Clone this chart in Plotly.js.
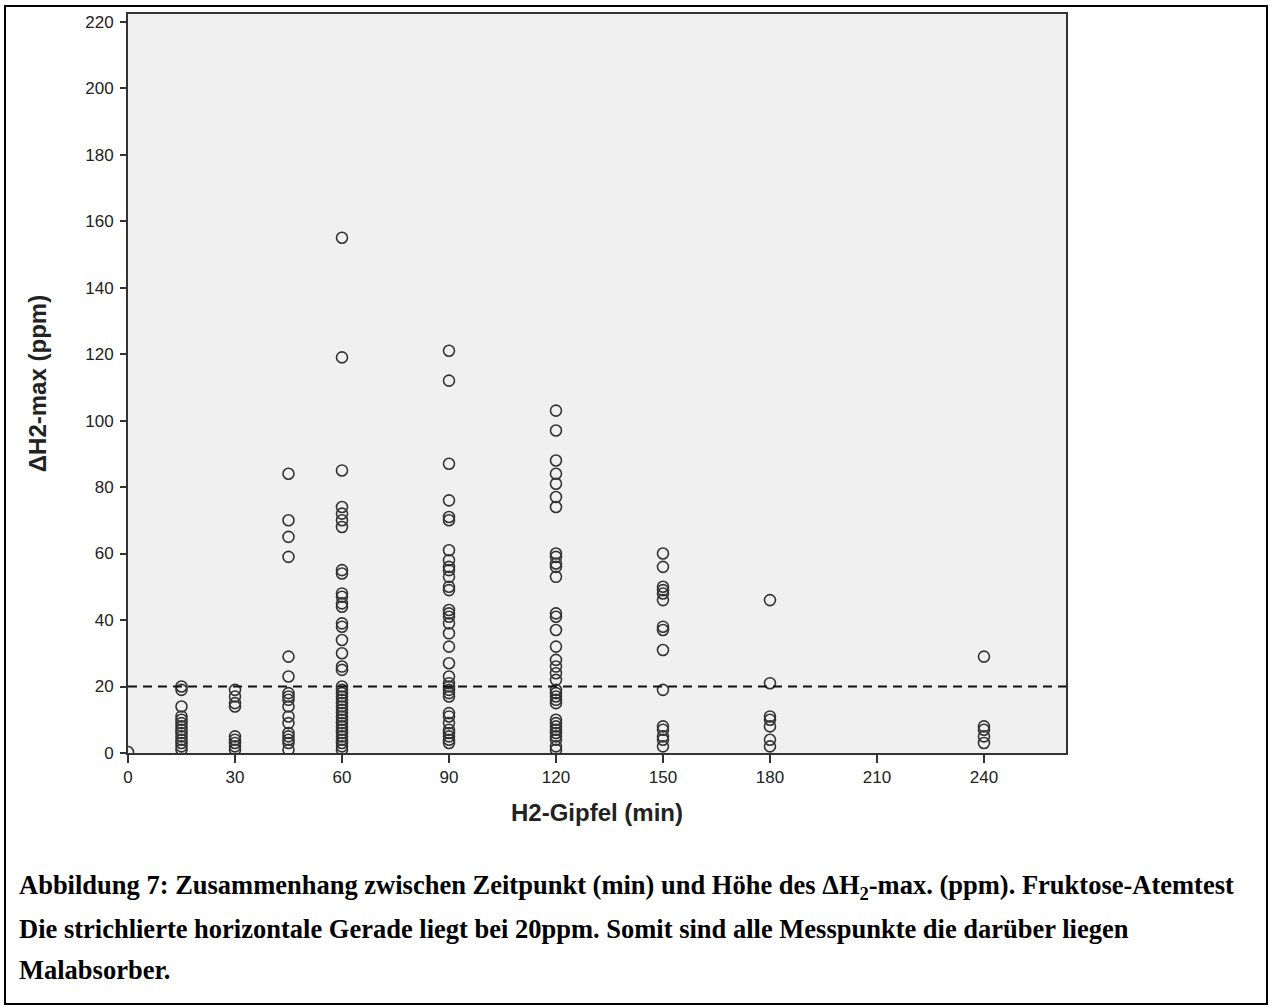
<!DOCTYPE html>
<html>
<head>
<meta charset="utf-8">
<script src="https://cdn.plot.ly/plotly-3.0.1.min.js"></script>
<style>
  html, body { margin: 0; padding: 0; background: #fff; }
  #wrap { position: relative; width: 1275px; height: 1006px; }
  #chart { position: absolute; left: 0; top: 0; width: 1275px; height: 1006px; }
  #frame { position: absolute; left: 4px; top: 5px; width: 1260px; height: 996px;
           border: 2px solid #000; pointer-events: none; }
</style>
</head>
<body>
<div id="wrap">
  <div id="chart"></div>
  <div id="frame"></div>
</div>
<script>
// ΔH2-max (ppm) values grouped by the time of the H2 peak (min)
const peakTimes = [0, 15, 30, 45, 60, 90, 120, 150, 180, 240];
const values0   = [0.3];
const values15  = [20, 19, 14, 11, 10, 9, 8, 7, 6, 5, 4, 3, 2, 1];
const values30  = [19, 17, 15, 14, 5, 4, 3, 2, 1];
const values45  = [84, 70, 65, 59, 29, 23, 18, 17, 16, 14, 11, 9, 6, 5, 4, 3, 1];
const values60  = [155, 119, 85, 74, 72, 70, 68, 55, 54, 48, 47, 45, 44, 39, 38, 34, 30, 26, 25,
                   20, 19, 18, 17, 16, 15, 14, 13, 12, 11, 10, 9, 8, 7, 6, 5, 4, 3, 2, 1];
const values90  = [121, 112, 87, 76, 71, 70, 61, 58, 56, 55, 53, 50, 49, 43, 42, 41, 39, 36, 32, 27,
                   23, 21, 20, 19, 18, 17, 12, 11, 9, 7, 6, 5, 4, 3];
const values120 = [103, 97, 88, 84, 81, 77, 74, 60, 59, 57, 56, 53, 42, 41, 37, 32, 28, 26, 24, 22,
                   19, 18, 17, 16, 15, 10, 9, 8, 7, 6, 5, 4, 2, 1];
const values150 = [60, 56, 50, 49, 48, 46, 38, 37, 31, 19, 8, 7, 5, 4, 2];
const values180 = [46, 21, 11, 10, 8, 4, 2];
const values240 = [29, 8, 7, 5, 3];
const groups = [values0, values15, values30, values45, values60, values90, values120, values150, values180, values240];

const threshold = 20;
const xTicks = [0, 30, 60, 90, 120, 150, 180, 210, 240];
const yTicks = [0, 20, 40, 60, 80, 100, 120, 140, 160, 180, 200, 220];
const xTitle = 'H2-Gipfel (min)';
const yTitle = 'ΔH2-max (ppm)';
const captionLines = [
  'Abbildung 7: Zusammenhang zwischen Zeitpunkt (min) und Höhe des ΔH<sub>2</sub>-max. (ppm). Fruktose-Atemtest',
  'Die strichlierte horizontale Gerade liegt bei 20ppm. Somit sind alle Messpunkte die darüber liegen',
  'Malabsorber.'
];

const xs = [], ys = [];
groups.forEach((g, i) => g.forEach(v => { xs.push(peakTimes[i]); ys.push(v); }));

const trace = {
  type: 'scatter', mode: 'markers', x: xs, y: ys,
  marker: { symbol: 'circle-open', size: 11, color: '#333', line: { width: 1.6, color: '#333' } },
  hoverinfo: 'x+y', showlegend: false
};

const W = 1275, H = 1006, L = 128, R = 209, T = 14, B = 253;
const pw = W - L - R, ph = H - T - B;
const px = v => (v - L) / pw;      // page x -> paper
const py = v => (H - B - v) / ph;  // page y -> paper

const annotations = captionLines.map((t, i) => ({
  xref: 'paper', yref: 'paper', x: px(17), y: py([887, 929, 970][i]),
  xanchor: 'left', yanchor: 'middle', showarrow: false, align: 'left',
  text: '<b>' + t + '</b>',
  font: { family: 'Liberation Serif, Times New Roman, serif', size: 26.5, color: '#000' }
}));

const layout = {
  width: W, height: H,
  margin: { l: L, r: R, t: T, b: B, pad: 0 },
  paper_bgcolor: '#fff', plot_bgcolor: '#f0f0f0',
  font: { family: 'Liberation Sans, Arial, sans-serif', color: '#222' },
  xaxis: {
    range: [0, 263], tickvals: xTicks, ticktext: xTicks.map(String),
    ticks: 'outside', ticklen: 8, tickwidth: 2, tickcolor: '#333',
    showline: true, linecolor: '#333', linewidth: 2, mirror: true,
    showgrid: false, zeroline: false,
    tickfont: { size: 17, color: '#222' },
    title: { text: '<b>' + xTitle + '</b>', font: { size: 24, color: '#222' }, standoff: 18 }
  },
  yaxis: {
    range: [0, 222.3], tickvals: yTicks, ticktext: yTicks.map(String),
    ticks: 'outside', ticklen: 6, tickwidth: 2, tickcolor: '#333',
    showline: true, linecolor: '#333', linewidth: 2, mirror: true,
    showgrid: false, zeroline: false, ticklabelstandoff: 3,
    tickfont: { size: 17, color: '#222' },
    title: { text: '<b>' + yTitle + '</b>', font: { size: 24, color: '#222' }, standoff: 32 }
  },
  shapes: [{
    type: 'line', xref: 'paper', yref: 'y', x0: 0, x1: 1, y0: threshold, y1: threshold,
    line: { color: '#111', width: 2, dash: '9px,6px' }, layer: 'above'
  }],
  annotations: annotations
};

Plotly.newPlot('chart', [trace], layout, { displayModeBar: false, staticPlot: true });
</script>
</body>
</html>
